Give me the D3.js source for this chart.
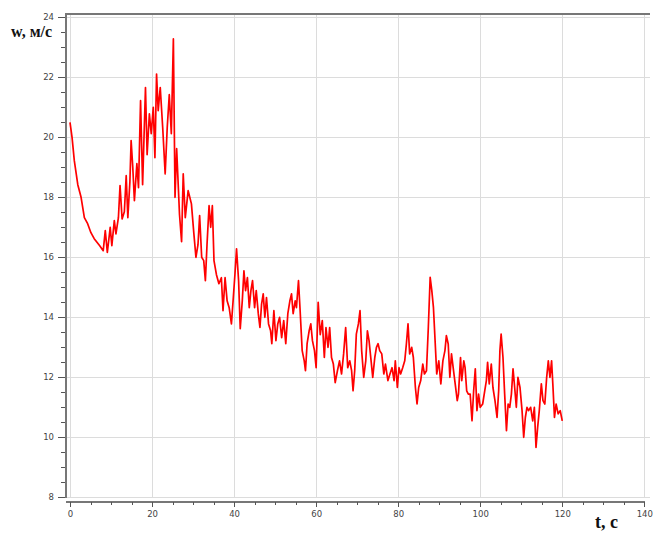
<!doctype html>
<head>
    <meta charset="utf-8">
    <title>w(t)</title>
    <script src="https://d3js.org/d3.v7.min.js"></script>
    <style>
        body {margin:0; background:#fff;}
        svg {width:658px; height:535px; display:block;}
        .grid line {stroke:#dcdcdc; stroke-width:1; shape-rendering:crispEdges;}
        .axis path {display:none;}
        .axis line {stroke:#555; shape-rendering:crispEdges;}
        .axis text {font-family:"DejaVu Sans", sans-serif; font-size:8.5px; fill:#444;}
        .frame {stroke:#777; stroke-width:2; fill:none; shape-rendering:crispEdges;}
        .title {font-family:"Liberation Serif", serif; font-weight:bold; fill:#111;}
        .curve {fill:none; stroke:#ff0000; stroke-width:1.7; stroke-linejoin:round;}
    </style>
</head>
<body>
    <script>
        "use strict";
        // time, s
        var timeSec = [
            0, 0.5, 1.05, 1.9, 2.7, 3.5, 4.3, 5.1, 5.9, 7.2,
            8.1, 8.6, 9.1, 9.8, 10.2, 10.8, 11.2, 11.8, 12.2, 12.7,
            13.25, 13.7, 14.1, 14.6, 14.9, 15.3, 15.7, 16.3, 16.7, 17.2,
            17.7, 18.4, 18.8, 19.35, 19.8, 20.3, 20.7, 21.1, 21.5, 22.0,
            22.6, 23.2, 23.7, 24.2, 24.7, 25.2, 25.6, 26.0, 26.7, 27.2,
            27.6, 28.1, 28.8,
            29.2, 29.6, 30.2, 30.7, 31.2, 31.6, 32.1, 32.6, 33.0, 33.4,
            33.9, 34.3, 34.7, 35.1, 35.7, 36.3, 36.9, 37.3, 37.8, 38.3,
            38.8, 39.35, 39.76, 40.2, 40.6, 41.1, 41.5, 42.0, 42.4, 42.8,
            43.25, 43.7, 44.1, 44.5, 45.0, 45.4, 45.9, 46.3, 46.7, 47.1,
            47.5, 47.9, 48.4, 48.9, 49.2, 49.7, 50.2, 50.65, 51.1, 51.6,
            52.1, 52.6, 53.1, 53.6, 54.0, 54.4, 54.9, 55.2, 55.7, 56.1,
            56.6, 57.1, 57.4, 57.8, 58.3, 58.7, 59.1, 59.6,
            60, 60.5, 61, 61.5, 62.0, 62.4, 62.9, 63.3, 63.75, 64.2,
            64.65, 65.2, 65.7, 66.2, 66.7, 67.2, 67.7, 68.2, 68.65, 69.0,
            69.4, 69.8, 70.3, 70.7, 71.1, 71.6, 72.1, 72.5, 72.9, 73.4,
            73.8, 74.3, 74.7, 75.1, 75.5, 76.0, 76.5, 76.9, 77.5, 78.0,
            78.5, 79.0, 79.3, 79.8, 80.2, 80.6, 81.1, 81.6, 82.0, 82.4,
            82.8, 83.3, 83.7, 84.2, 84.6, 85.0, 85.5, 86.0, 86.4, 86.9,
            87.35, 87.8, 88.2, 88.6, 89.0, 89.4, 89.9, 90.4,
            90.9, 91.4, 91.75, 92.2, 92.6, 93.0, 93.4, 93.9, 94.4, 94.7,
            95.2, 95.5, 96.0, 96.3, 96.7, 97.1, 97.55, 98.0, 98.4, 98.8,
            99.2, 99.6, 100, 100.6, 101.1, 101.5, 101.8, 102.2, 102.7, 103.1,
            103.6, 104.1, 104.5, 104.8, 105.1, 105.55, 105.96, 106.4, 106.8, 107.2,
            107.6, 108.0, 108.4, 108.8, 109.2, 109.7, 110.2, 110.6, 111.0, 111.4,
            111.8, 112.3, 112.8, 113.2, 113.6, 114.0, 114.4, 114.9, 115.3, 115.75,
            116.2, 116.6, 117.0, 117.4, 117.7, 118.1, 118.5, 119.0, 119.5, 120.0
        ];
        // w, m/s
        var speed = [
            20.48, 19.98, 19.2, 18.4, 17.98, 17.3, 17.1, 16.8, 16.6, 16.37,
            16.2, 16.87, 16.14, 16.98, 16.37, 17.2, 16.76, 17.3, 18.37, 17.26,
            17.5, 18.7, 17.3, 18.5, 19.87, 18.98, 17.87, 19.1, 18.3, 21.2,
            18.4, 21.64, 19.4, 20.76, 20.1, 20.98, 19.3, 22.09, 20.87, 21.64,
            20.3, 18.76, 20.3, 21.4, 20.1, 23.26, 17.98, 19.6, 17.4, 16.5,
            18.76, 17.3, 18.2,
            17.98, 17.76, 16.76, 15.98, 16.4, 17.37, 15.98, 15.87, 15.2, 16.4,
            17.7, 16.98, 17.7, 15.87, 15.4, 15.1, 15.3, 14.2, 15.3, 14.53,
            14.3, 13.76, 14.53, 15.4, 16.26, 15.2, 13.6, 14.53, 15.53, 14.87,
            15.3, 14.3, 14.87, 15.2, 14.3, 14.87, 14.1, 13.64, 14.42, 14.76,
            13.98, 14.64, 13.76, 13.53, 13.1, 14.2, 13.2, 13.76, 13.98, 13.3,
            13.87, 13.1, 14.1, 14.53, 14.76, 14.1, 14.53, 14.3, 15.2, 14.2,
            12.87, 12.53, 12.2, 13.1, 13.53, 13.76, 13.2, 12.87,
            12.3, 14.48, 13.4, 13.87, 12.64, 13.64, 12.98, 13.64, 12.64, 12.42,
            11.8, 12.2, 12.53, 12.09, 12.76, 13.64, 12.3, 12.53, 12.2, 11.53,
            12.2, 13.42, 13.76, 14.2, 12.87, 11.98, 12.53, 13.53, 13.2, 12.53,
            11.98, 12.64, 12.98, 13.1, 12.87, 12.76, 12.09, 12.42, 11.87, 12.09,
            12.3, 11.87, 12.53, 11.64, 12.3, 12.09, 12.3, 12.53, 13.09, 13.76,
            12.76, 12.98, 12.64, 11.64, 11.09, 11.64, 11.87, 12.42, 12.09, 12.2,
            13.64, 15.31, 14.87, 14.3, 13.2, 12.09, 12.53, 11.76,
            12.53, 12.87, 13.37, 13.09, 11.98, 12.76, 12.31, 11.76, 11.2, 11.42,
            12.64, 11.87, 12.53, 12.31, 11.53, 11.42, 11.42, 10.53, 11.53, 12.26,
            10.87, 11.42, 10.98, 11.09, 11.53, 11.87, 12.48, 11.76, 12.42, 11.64,
            11.2, 10.64, 11.53, 12.87, 13.42, 12.64, 11.42, 10.2, 11.09, 10.98,
            11.42, 12.26, 11.64, 10.98, 11.98, 11.64, 10.87, 9.98, 10.64, 10.98,
            10.87, 10.98, 10.53, 10.98, 9.64, 10.31, 10.87, 11.76, 11.2, 11.09,
            11.98, 12.53, 11.98, 12.53, 11.76, 10.64, 11.09, 10.76, 10.87, 10.53
        ];
        var xMajor = [0, 20, 40, 60, 80, 100, 120, 140];
        var yMajor = [8, 10, 12, 14, 16, 18, 20, 22, 24];

        var svg = d3.select("body").append("svg");

        var x = d3.scaleLinear().domain([0, 140]).range([70, 644.3]);
        var y = d3.scaleLinear().domain([8, 24]).range([496.7, 16.7]);

        // grid
        var grid = svg.append("g").attr("class", "grid");
        grid.selectAll(".gx").data(xMajor).enter().append("line")
            .attr("x1", function(d) { return Math.round(x(d)) + 0.5; })
            .attr("x2", function(d) { return Math.round(x(d)) + 0.5; })
            .attr("y1", 14).attr("y2", 497);
        grid.selectAll(".gy").data(yMajor).enter().append("line")
            .attr("y1", function(d) { return Math.round(y(d)) + 0.5; })
            .attr("y2", function(d) { return Math.round(y(d)) + 0.5; })
            .attr("x1", 66).attr("x2", 650);

        // frame: left, top, bottom
        svg.append("path").attr("class", "frame")
            .attr("d", "M650,13.5 H65.5 V498");
        svg.append("line").attr("class", "frame")
            .attr("x1", 66).attr("x2", 645).attr("y1", 501.5).attr("y2", 501.5);

        // x axis
        var xMinor = d3.range(0, 141, 5).filter(function(d) { return d % 20 !== 0; });
        svg.append("g").attr("class", "axis")
            .attr("transform", "translate(0,502)")
            .call(d3.axisBottom(x).tickValues(xMinor).tickSize(3).tickFormat(""));
        svg.append("g").attr("class", "axis")
            .attr("transform", "translate(0,502)")
            .call(d3.axisBottom(x).tickValues(xMajor).tickSize(5).tickPadding(4).tickFormat(d3.format("d")));

        // y axis
        var yMinor = d3.range(8, 24.01, 0.5).filter(function(d) { return d % 2 !== 0; });
        svg.append("g").attr("class", "axis")
            .attr("transform", "translate(65,0)")
            .call(d3.axisLeft(y).tickValues(yMinor).tickSize(4).tickFormat(""));
        svg.append("g").attr("class", "axis")
            .attr("transform", "translate(65,0)")
            .call(d3.axisLeft(y).tickValues(yMajor).tickSize(7).tickPadding(4).tickFormat(d3.format("d")));

        // curve
        var line = d3.line()
            .x(function(d) { return x(d[0]); })
            .y(function(d) { return y(d[1]); });
        svg.append("path").attr("class", "curve")
            .attr("d", line(d3.zip(timeSec, speed)));

        // axis titles
        svg.append("text").attr("class", "title")
            .attr("x", 11).attr("y", 37).style("font-size", "16px")
            .text("w, м/с");
        svg.append("text").attr("class", "title")
            .attr("x", 595).attr("y", 528).style("font-size", "18px")
            .text("t, с");
    </script>
</body>
</html>
